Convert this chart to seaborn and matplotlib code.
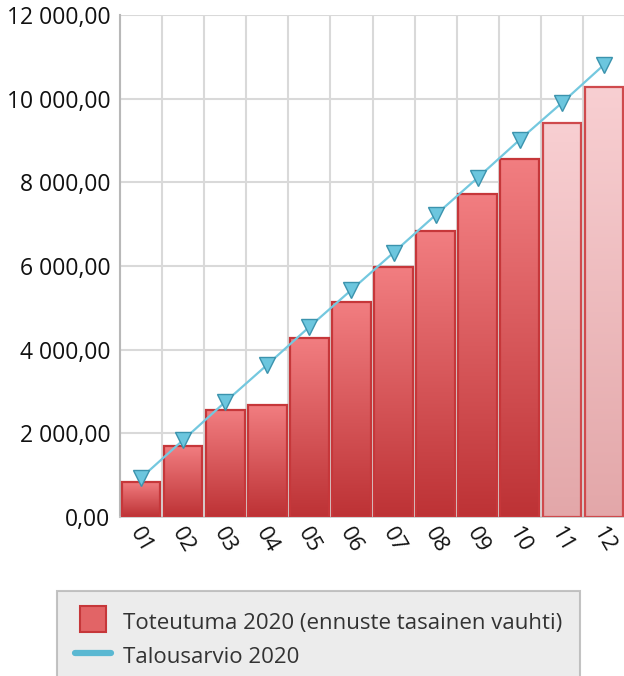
import numpy as np
import pandas as pd
import matplotlib
matplotlib.use("Agg")
import matplotlib.pyplot as plt
import seaborn as sns
from matplotlib.colors import LinearSegmentedColormap
from matplotlib.lines import Line2D
from matplotlib.ticker import FuncFormatter, MultipleLocator, FixedLocator

# --- data ---
months = ["01", "02", "03", "04", "05", "06", "07", "08", "09", "10", "11", "12"]
toteutuma = [845, 1700, 2560, 2680, 4280, 5140, 5980, 6840, 7730, 8560, 9430, 10290]
talousarvio = [935, 1840, 2750, 3640, 4545, 5430, 6320, 7220, 8110, 9020, 9900, 10810]
ennuste_months = ["11", "12"]  # forecast part, drawn lighter

label_bar = "Toteutuma 2020 (ennuste tasainen vauhti)"
label_line = "Talousarvio 2020"

df = pd.DataFrame({"kk": months, "toteutuma": toteutuma, "talousarvio": talousarvio})

sns.set_style("white")
plt.rcParams["font.family"] = ["Open Sans", "DejaVu Sans"]

fig = plt.figure(figsize=(6.24, 6.76), dpi=100)
ax = fig.add_axes([120 / 624, (676 - 517) / 676, 505 / 624, 502 / 676])

sns.barplot(data=df, x="kk", y="toteutuma", color="#e06465", width=0.92,
            edgecolor="#c6373a", linewidth=1.6, ax=ax, zorder=3)

# gradient fill inside every bar
cm_actual = LinearSegmentedColormap.from_list("act", ["#bd3235", "#f27e81"])
cm_fcst = LinearSegmentedColormap.from_list("fc", ["#e3a7a9", "#f8cfd2"])
grad = np.linspace(0, 1, 256).reshape(-1, 1)
for kk, p in zip(months, ax.patches):
    x0, y0 = p.get_x(), p.get_y()
    w, h = p.get_width(), p.get_height()
    cmap = cm_fcst if kk in ennuste_months else cm_actual
    im = ax.imshow(grad, cmap=cmap, origin="lower", aspect="auto",
                   extent=[x0, x0 + w, y0, y0 + h], zorder=2.5)
    im.set_clip_path(p)
    p.set_facecolor("none")
    if kk in ennuste_months:
        p.set_edgecolor("#cf4a4d")

sns.pointplot(data=df, x="kk", y="talousarvio", color="#74c8df", marker="v",
              markersize=12, linewidth=1.6, errorbar=None, ax=ax, zorder=5)
ln = ax.lines[-1]
ln.set_markerfacecolor("#6cc6de")
ln.set_markeredgecolor("#3b93ad")
ln.set_markeredgewidth(1.0)

ax.set_xlim(-0.5, len(months) - 0.5)
ax.set_ylim(0, 12000)
ax.set_xlabel("")
ax.set_ylabel("")

# grid and axes
ax.yaxis.set_major_locator(MultipleLocator(2000))
ax.yaxis.set_major_formatter(FuncFormatter(
    lambda v, _: f"{v:,.2f}".replace(",", " ").replace(".", ",")))
ax.xaxis.set_minor_locator(FixedLocator(np.arange(-0.5, len(months), 1.0)))
ax.grid(True, axis="y", which="major", color="#d9d9d9", lw=1.5, zorder=0)
ax.grid(True, axis="x", which="minor", color="#d9d9d9", lw=1.5, zorder=0)
ax.set_axisbelow(True)

for s in ["top", "right"]:
    ax.spines[s].set_visible(False)
ax.spines["left"].set_color("#b8b8b8")
ax.spines["left"].set_linewidth(1.5)
ax.spines["bottom"].set_color("#c8c8c8")
ax.spines["bottom"].set_linewidth(1.2)

ax.tick_params(axis="y", length=0, pad=7, labelsize=16.5, labelcolor="#111111")
ax.tick_params(axis="x", which="minor", direction="out", length=7, width=2.2,
               color="#a4a9ad")
ax.tick_params(axis="x", which="major", length=0, pad=17, labelsize=16,
               labelcolor="#111111")
for t in ax.get_xticklabels():
    t.set_rotation(-60)
    t.set_ha("center")
    t.set_va("center")
    t.set_rotation_mode("anchor")

handles = [
    Line2D([], [], marker="s", linestyle="none", markersize=18.5,
           markerfacecolor="#e26466", markeredgecolor="#c6373a", markeredgewidth=1.5),
    Line2D([], [], color="#5ab8d2", lw=4.5, solid_capstyle="round"),
]
leg = fig.legend(handles, [label_bar, label_line], loc="upper left",
                 bbox_to_anchor=(57 / 624, 1 - 591 / 676), borderaxespad=0,
                 fontsize=16, frameon=True, fancybox=False, handlelength=1.65,
                 handleheight=1.4, handletextpad=0.5, labelspacing=0.37,
                 borderpad=0.8)
leg.get_frame().set_facecolor("#e8e8e8")
leg.get_frame().set_edgecolor("#b4b4b4")
leg.get_frame().set_linewidth(1.5)
for t in leg.get_texts():
    t.set_color("#333333")

fig.savefig("out.png", dpi=100)
